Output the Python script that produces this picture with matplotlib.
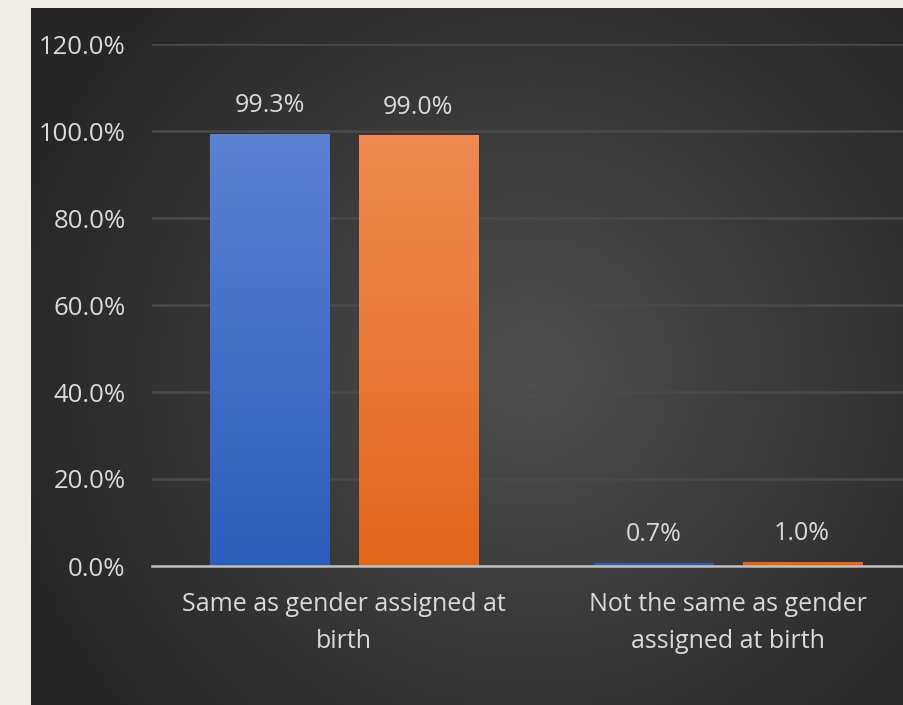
import matplotlib.pyplot as plt
import numpy as np
from matplotlib.colors import LinearSegmentedColormap

# dados
categorias = ["Same as gender assigned at\nbirth", "Not the same as gender\nassigned at birth"]
serie_azul = [99.3, 0.7]
serie_laranja = [99.0, 1.0]
rotulos_y = ["0.0%", "20.0%", "40.0%", "60.0%", "80.0%", "100.0%", "120.0%"]
ticks_y = [0, 20, 40, 60, 80, 100, 120]

plt.rcParams['font.family'] = ['Open Sans', 'DejaVu Sans']

W, H = 904, 705
fig = plt.figure(figsize=(W/100, H/100), dpi=100, facecolor="#efebe5")

# fundo escuro com degradê radial
bg = fig.add_axes([31/W, 0, 1 - 31/W, 1 - 8/H])
bg.set_axis_off()
ny, nx = 300, 380
yy, xx = np.mgrid[0:ny, 0:nx]
cx, cy = nx*0.57, ny*0.52
r = np.sqrt(((xx - cx)/(nx*0.62))**2 + ((yy - cy)/(ny*0.75))**2)
r = np.clip(r, 0, 1)
cmap_bg = LinearSegmentedColormap.from_list("bg", ["#4f4f4f", "#3a3a3a", "#262626"])
bg.imshow(r, cmap=cmap_bg, aspect="auto", extent=[0, 1, 0, 1], vmin=0, vmax=1)
bg.set_xlim(0, 1)
bg.set_ylim(0, 1)

# eixo principal
x0, x1 = 152, 920
y_top, y_base = 44, 566
ax = fig.add_axes([x0/W, (H - y_base)/H, (x1 - x0)/W, (y_base - y_top)/H])
ax.set_facecolor("none")
ax.set_xlim(-0.5, 1.5)
ax.set_ylim(0, 120)

x = np.arange(len(categorias))
larg = 0.31
desl = 0.193

grad_azul = LinearSegmentedColormap.from_list("az", ["#2c5ebd", "#5a83d0"])
grad_lar = LinearSegmentedColormap.from_list("la", ["#e2661a", "#f08a52"])

barras_azul = ax.bar(x - desl, serie_azul, larg, color="#4472c4", edgecolor="#2a2a2a", linewidth=0.8, zorder=3)
barras_lar = ax.bar(x + desl, serie_laranja, larg, color="#ed7d31", edgecolor="#2a2a2a", linewidth=0.8, zorder=3)

grad = np.linspace(0, 1, 256).reshape(-1, 1)
for barras, cm in [(barras_azul, grad_azul), (barras_lar, grad_lar)]:
    for b in barras:
        bx, bw = b.get_x(), b.get_width()
        im = ax.imshow(grad, cmap=cm, aspect="auto", origin="lower",
                       extent=[bx, bx + bw, 0, 100], zorder=4)
        im.set_clip_path(b)

for barras, vals in [(barras_azul, serie_azul), (barras_lar, serie_laranja)]:
    for b, v in zip(barras, vals):
        ax.text(b.get_x() + b.get_width()/2, v + 6.5, f"{v:.1f}%", ha="center", va="center",
                color="#d9d9d9", fontsize=18, zorder=5)

ax.set_yticks(ticks_y)
ax.set_yticklabels(rotulos_y)
ax.set_xticks(x)
ax.set_xticklabels(categorias, linespacing=1.6)
ax.tick_params(axis="y", length=0, pad=19, labelcolor="#d9d9d9", labelsize=18.5)
ax.tick_params(axis="x", length=0, pad=19, labelcolor="#d9d9d9", labelsize=18)

ax.grid(axis="y", color="#4a4a4a", linewidth=1.8, zorder=1)
for s in ["top", "right", "left"]:
    ax.spines[s].set_visible(False)
ax.spines["bottom"].set_color("#bfbfbf")
ax.spines["bottom"].set_linewidth(1.8)
ax.spines["bottom"].set_zorder(6)

fig.savefig("out.png", dpi=100, facecolor=fig.get_facecolor())
